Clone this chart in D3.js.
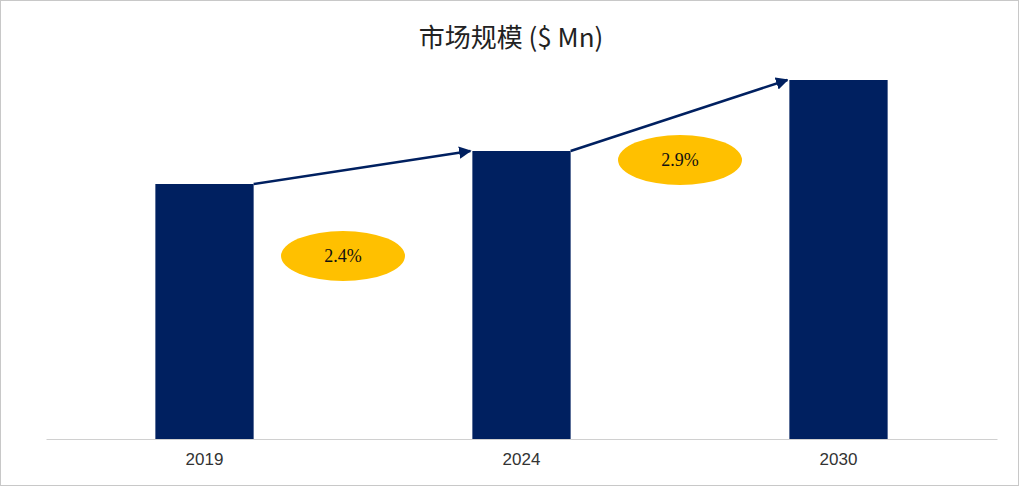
<!DOCTYPE html>
<html><head><meta charset="utf-8">
<script src="https://cdn.jsdelivr.net/npm/d3@7"></script>
<style>body{margin:0;background:#fff}</style>
</head><body>
<script>
const years = ["2019", "2024", "2030"];
const values = [255, 288, 359];
const cagrLabels = ["2.4%", "2.9%"];

const width = 1019, height = 486;
const svg = d3.select("body").append("svg").attr("width", width).attr("height", height);

svg.append("rect").attr("x", 0.5).attr("y", 0.5).attr("width", width - 1).attr("height", height - 1)
    .attr("fill", "#fff").attr("stroke", "#c8c8c8");

const x = d3.scaleBand().domain(years).range([46, 997]).paddingInner(0.69).paddingOuter(0.345);
const y = d3.scaleLinear().domain([0, 359]).range([439, 80]);

svg.append("text").attr("x", 511).attr("y", 47).attr("text-anchor", "middle")
    .attr("font-family", "Noto Sans CJK SC, sans-serif").attr("font-size", 26).attr("fill", "#222")
    .text("市场规模 ($ Mn)");

svg.selectAll("rect.bar").data(years).join("rect").attr("class", "bar")
    .attr("x", d => x(d)).attr("width", x.bandwidth())
    .attr("y", (d, i) => y(values[i])).attr("height", (d, i) => 439 - y(values[i]))
    .attr("fill", "#002060");

const axis = svg.append("g").attr("transform", "translate(0,439)")
    .call(d3.axisBottom(x).tickSize(0).tickPadding(14));
axis.select(".domain").attr("stroke", "#d0d0d0");
axis.selectAll("text").attr("font-family", "Liberation Sans, Arial, sans-serif").attr("font-size", 17).attr("fill", "#333");

svg.append("defs").append("marker").attr("id", "ah").attr("viewBox", "0 0 10 10")
    .attr("refX", 9).attr("refY", 5).attr("markerWidth", 5).attr("markerHeight", 5).attr("orient", "auto")
    .append("path").attr("d", "M0,0L10,5L0,10z").attr("fill", "#002060");

for (let i = 0; i < 2; i++) {
    const x1 = x(years[i]) + x.bandwidth(), y1 = y(values[i]);
    const x2 = x(years[i + 1]) - 2, y2 = y(values[i + 1]);
    svg.append("line").attr("x1", x1).attr("y1", y1).attr("x2", x2).attr("y2", y2)
        .attr("stroke", "#002060").attr("stroke-width", 2.5).attr("marker-end", "url(#ah)");
}
const ell = [[343, 256], [680, 160]];
cagrLabels.forEach((t, i) => {
    svg.append("ellipse").attr("cx", ell[i][0]).attr("cy", ell[i][1]).attr("rx", 62).attr("ry", 25).attr("fill", "#FFC000");
    svg.append("text").attr("x", ell[i][0]).attr("y", ell[i][1] + 6).attr("text-anchor", "middle")
        .attr("font-family", "Liberation Serif, Times New Roman, serif").attr("font-size", 18).attr("fill", "#111").text(t);
});
</script>
</body></html>
